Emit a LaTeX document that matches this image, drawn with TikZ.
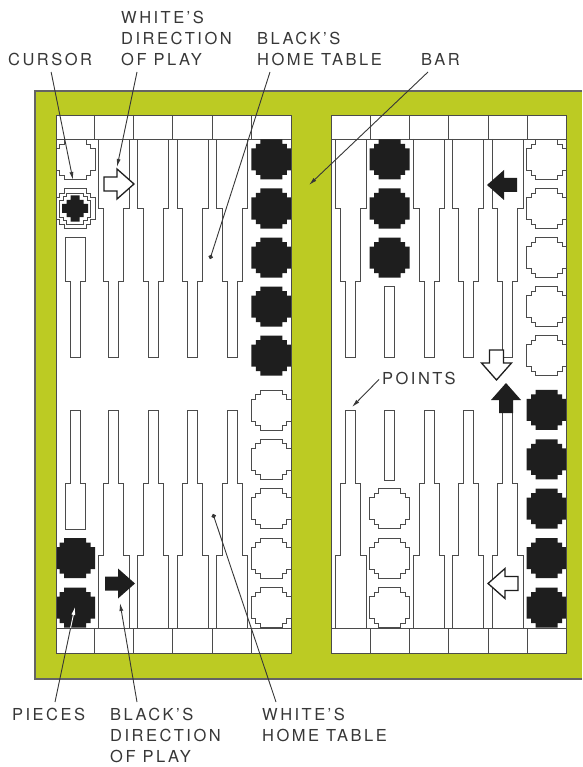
\documentclass[tikz,border=0pt]{standalone}
\usepackage{fontspec}
\setmainfont{TeX Gyre Heros}
\usetikzlibrary{arrows.meta, calc}

\definecolor{boardgreen}{RGB}{188,203,35}
\definecolor{inkgray}{RGB}{55,55,55}
\definecolor{ptgray}{RGB}{75,75,75}
\definecolor{piececol}{RGB}{30,30,30}
\definecolor{rimgray}{RGB}{100,100,100}

\newcommand\piecepath{(-11,-20) -- (11,-20) -- (11,-15.5) -- (15.5,-15.5) -- (15.5,-11) -- (20,-11) -- (20,11) -- (15.5,11) -- (15.5,15.5) -- (11,15.5) -- (11,20) -- (-11,20) -- (-11,15.5) -- (-15.5,15.5) -- (-15.5,11) -- (-20,11) -- (-20,-11) -- (-15.5,-11) -- (-15.5,-15.5) -- (-11,-15.5) -- cycle}
\newcommand\arrowpath{(-13,-7) -- (0,-7) -- (0,-15) -- (17,0) -- (0,15) -- (0,7) -- (-13,7) -- cycle}

\begin{document}
\begin{tikzpicture}[x=1pt, y=-1pt,
    every node/.style={font=\fontsize{16.5}{21}\selectfont\addfontfeatures{LetterSpace=15}, text=inkgray, inner sep=0pt, align=left},
    ptline/.style={draw=ptgray, line width=0.7pt},
    leader/.style={draw=inkgray, line width=0.9pt, -{Latex[length=8pt, width=4pt]}},
    dotleader/.style={draw=inkgray, line width=0.9pt, -{Circle[length=4.5pt]}},
    toppt/.pic={\draw[ptline] (-15.5,139) -- (-15.5,208) -- (-10,208) -- (-10,281) -- (-5,281) -- (-5,357) -- (5,357) -- (5,281) -- (10,281) -- (10,208) -- (15.5,208) -- (15.5,139);},
    botpt/.pic={\draw[ptline] (-15.5,628) -- (-15.5,555) -- (-10,555) -- (-10,483) -- (-5,483) -- (-5,410) -- (5,410) -- (5,483) -- (10,483) -- (10,555) -- (15.5,555) -- (15.5,628);},
    wpiece/.pic={\draw[ptline, fill=white] \piecepath;},
    bpiece/.pic={\fill[piececol] \piecepath;},
    cursorpc/.pic={\draw[ptline, fill=white] \piecepath;
      \draw[ptline, scale=0.78] \piecepath;
      \fill[piececol] (-4.5,-13) -- (4.5,-13) -- (4.5,-8.5) -- (8.5,-8.5) -- (8.5,-4.5) -- (13,-4.5) -- (13,4.5) -- (8.5,4.5) -- (8.5,8.5) -- (4.5,8.5) -- (4.5,13) -- (-4.5,13) -- (-4.5,8.5) -- (-8.5,8.5) -- (-8.5,4.5) -- (-13,4.5) -- (-13,-4.5) -- (-8.5,-4.5) -- (-8.5,-8.5) -- (-4.5,-8.5) -- cycle;},
    warrow/.pic={\draw[draw=piececol, line width=1.3pt, fill=white] \arrowpath;},
    karrow/.pic={\fill[piececol] \arrowpath;}
  ]
  \useasboundingbox (0,0) rectangle (582,767);

  % board
  \fill[boardgreen] (35,91) rectangle (582,679);
  \draw[rimgray, line width=1.2pt] (582,91) -- (35,91) -- (35,679) -- (582,679);
  \fill[white] (56,115) rectangle (291,653);
  \fill[white] (331,115) rectangle (566,653);

  % trays and dividers
  \draw[ptline] (56,139) -- (291,139) (56,628) -- (291,628);
  \draw[ptline] (331,139) -- (566,139) (331,628) -- (566,628);
  \foreach \x in {94,133.4,172.8,212.2,251.6,370,409.3,448.6,487.9,527.2}
    \draw[ptline] (\x,115) -- (\x,139) (\x,628) -- (\x,653);

  % points
  \foreach \c in {113.7,153.1,192.5,231.9,350.5,429,468.2,507.5} {
    \pic at (\c,0) {toppt};
    \pic at (\c,0) {botpt};
  }
  \draw[ptline] (65,237) -- (85,237) -- (85,281) -- (80,281) -- (80,357) -- (70,357) -- (70,281) -- (65,281) -- cycle;
  \draw[ptline] (65,529) -- (85,529) -- (85,483) -- (80,483) -- (80,410) -- (70,410) -- (70,483) -- (65,483) -- cycle;
  \draw[ptline] (384.6,286) rectangle (394.6,357);
  \draw[ptline] (384.6,480) rectangle (394.6,410);

  % pieces
  \begin{scope}
    \clip (56,115) rectangle (291,653);
    \pic at (75,159.5) {wpiece};
    \pic at (75,208.5) {cursorpc};
    \foreach \k in {0,...,4} {
      \pic at (271.3,159.5+49*\k) {bpiece};
      \pic at (271.3,607.5-49.4*\k) {wpiece};
    }
    \foreach \k in {0,1}
      \pic at (75,607.5-49.4*\k) {bpiece};
  \end{scope}
  \begin{scope}
    \clip (331,115) rectangle (566,653);
    \foreach \k in {0,...,4} {
      \pic at (546.6,159.5+49*\k) {wpiece};
      \pic at (546.6,607.5-49.4*\k) {bpiece};
    }
    \foreach \k in {0,1,2} {
      \pic at (389.6,159.5+49*\k) {bpiece};
      \pic at (389.6,607.5-49.4*\k) {wpiece};
    }
  \end{scope}
  \draw[ptline] (56,115) rectangle (291,653) (331,115) rectangle (566,653);

  % direction arrows
  \pic at (117,184) {warrow};
  \pic at (118,583.5) {karrow};
  \pic[rotate=180] at (504,185) {karrow};
  \pic[rotate=270] at (496.5,363) {warrow};
  \pic[rotate=90] at (506,400) {karrow};
  \pic[rotate=180] at (505,583.5) {warrow};

  % labels
  \node[anchor=south west] (cursor) at (8,66) {CURSOR};
  \node[anchor=south west] (whitedir) at (121,66) {WHITE'S\\DIRECTION\\OF PLAY};
  \node[anchor=south west] (blackhome) at (257,66) {BLACK'S\\HOME TABLE};
  \node[anchor=south west] (bar) at (421,66) {BAR};
  \node[anchor=south west] (points) at (382,385) {POINTS};
  \node[anchor=north west] (pieces) at (12,708) {PIECES};
  \node[anchor=north west] (blackdir) at (110,708) {BLACK'S\\DIRECTION\\OF PLAY};
  \node[anchor=north west] (whitehome) at (262,708) {WHITE'S\\HOME TABLE};

  % leaders
  \coordinate (cursortip) at (73,180);
  \coordinate (whitedirtip) at (117,167);
  \coordinate (blackhomedot) at (210,259);
  \coordinate (bartip) at (309,185);
  \coordinate (pointstip) at (352,407);
  \coordinate (piecestip) at (75,607);
  \coordinate (blackdirtip) at (120,603);
  \coordinate (whitehomedot) at (213,514);
  \coordinate (piecesfoot) at ($(pieces.north west)+(43,-6)$);
  \draw[leader] ($(cursor.south)+(1,6)$) -- (cursortip);
  \draw[leader] ($(whitedir.south west)+(16,6)$) -- (whitedirtip);
  \draw[dotleader] ($(blackhome.south west)+(13,6)$) -- (blackhomedot);
  \draw[leader] ($(bar.south west)+(7,6)$) -- (bartip);
  \draw[leader] ($(points.west)+(-3,1)$) -- (pointstip);
  \draw[leader] (piecesfoot) -- (piecestip);
  \draw[leader, draw=white] ($(piecesfoot)!0.78!(piecestip)$) -- (piecestip);
  \draw[leader] ($(blackdir.north west)+(27,-6)$) -- (blackdirtip);
  \draw[dotleader] ($(whitehome.north west)+(14,-6)$) -- (whitehomedot);
\end{tikzpicture}
\end{document}
